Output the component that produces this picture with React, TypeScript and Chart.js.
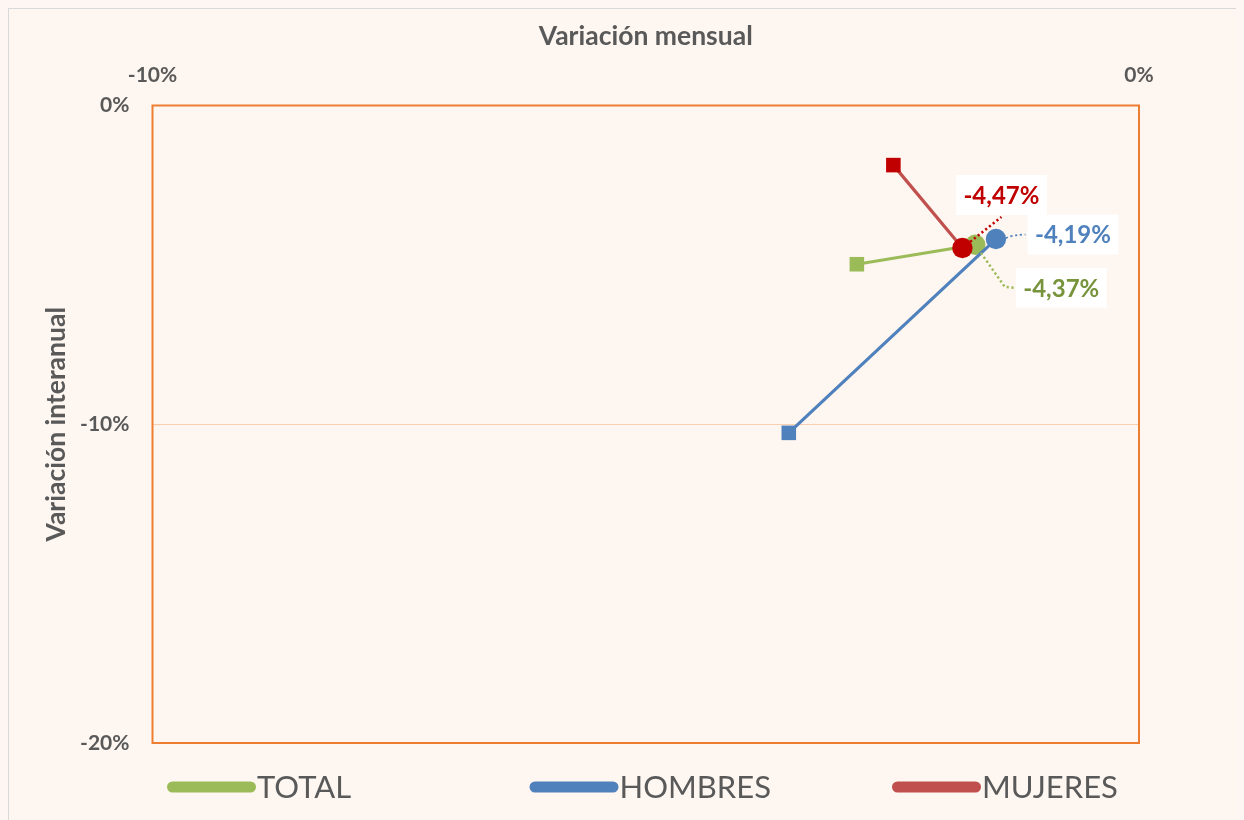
import React, { useEffect, useRef } from 'react';
import { Chart, registerables } from 'chart.js';

Chart.register(...registerables);

// ---------- data ----------
const seriesNames = ['TOTAL', 'HOMBRES', 'MUJERES'];
const monthlyTotal = [-2.86, -1.66];
const annualTotal = [-4.98, -4.37];
const monthlyHombres = [-3.55, -1.45];
const annualHombres = [-10.27, -4.19];
const monthlyMujeres = [-2.49, -1.79];
const annualMujeres = [-1.87, -4.47];
const xTickValues = [-10, 0];
const yTickValues = [0, -10, -20];
const xTitle = 'Variación mensual';
const yTitle = 'Variación interanual';

// ---------- styles ----------
const FONT = 'Lato, "Open Sans", sans-serif';
const GRAY = '#595959';
const lineColors = ['#9BBB59', '#4F81BD', '#C0504D'];
const markerColors = ['#9BBB59', '#4F81BD', '#C00000'];
const labelColors = ['#77933C', '#4F81BD', '#C00000'];
const leaderColors = ['#9BBB59', '#4F81BD', '#C00000'];
// label centre offset from the last point (px) and leader type
const labelLayout = [
  { dx: 86, dy: 43, kind: 'below' },
  { dx: 77, dy: -4.5, kind: 'right' },
  { dx: 39, dy: -53, kind: 'above' },
];

const fmt = (v: number) => v.toFixed(2).replace('.', ',') + '%';

const framePlugin = {
  id: 'frame',
  beforeDatasetsDraw(chart: any) {
    const { ctx, chartArea: a } = chart;
    ctx.save();
    ctx.strokeStyle = '#ED7D31';
    ctx.lineWidth = 2;
    ctx.strokeRect(a.left, a.top, a.right - a.left, a.bottom - a.top);
    ctx.restore();
  },
};

const labelPlugin = {
  id: 'pointLabels',
  afterDatasetsDraw(chart: any) {
    const { ctx } = chart;
    ctx.save();
    const boxW = 91;
    const boxH = 40;
    // leaders first
    chart.data.datasets.forEach((ds: any, i: number) => {
      const meta = chart.getDatasetMeta(i);
      const el = meta.data[meta.data.length - 1];
      const px = el.x;
      const py = el.y;
      const lay = labelLayout[i];
      const cx = px + lay.dx;
      const cy = py + lay.dy;
      const left = cx - boxW / 2;
      ctx.strokeStyle = leaderColors[i];
      ctx.setLineDash([2.2, 2.6]);
      ctx.lineCap = 'butt';
      ctx.beginPath();
      if (lay.kind === 'above') {
        const tx = cx, ty = cy + boxH / 2 + 2;
        const d = Math.hypot(tx - px, ty - py);
        ctx.lineWidth = 2.5;
        ctx.moveTo(px + ((tx - px) / d) * 10, py + ((ty - py) / d) * 10);
        ctx.lineTo(tx, ty);
      } else if (lay.kind === 'right') {
        ctx.lineWidth = 1.8;
        ctx.moveTo(px + 10, py - 1);
        ctx.quadraticCurveTo(px + 18, cy, left - 2, cy);
      } else {
        ctx.lineWidth = 2.5;
        const tx = left - 11, ty = cy - 1;
        const d = Math.hypot(tx - px, ty - py);
        ctx.moveTo(px + ((tx - px) / d) * 10, py + ((ty - py) / d) * 10);
        ctx.lineTo(tx, ty);
        ctx.lineTo(left - 1, cy);
      }
      ctx.stroke();
    });
    ctx.setLineDash([]);
    // boxes + text
    chart.data.datasets.forEach((ds: any, i: number) => {
      const meta = chart.getDatasetMeta(i);
      const el = meta.data[meta.data.length - 1];
      const lay = labelLayout[i];
      const cx = el.x + lay.dx;
      const cy = el.y + lay.dy;
      ctx.fillStyle = '#FFFFFF';
      ctx.fillRect(cx - boxW / 2, cy - boxH / 2, boxW, boxH);
      ctx.fillStyle = labelColors[i];
      ctx.font = `bold 24px ${FONT}`;
      ctx.textAlign = 'center';
      ctx.textBaseline = 'middle';
      const last = ds.data[ds.data.length - 1];
      ctx.fillText(fmt(last.y), cx, cy + 1);
    });
    ctx.restore();
  },
};

const legendPlugin = {
  id: 'customLegend',
  afterDraw(chart: any) {
    const { ctx } = chart;
    ctx.save();
    const y = 778;
    const start = 158;
    const slot = 362.5;
    const sw = 89;
    seriesNames.forEach((name, i) => {
      const x = start + i * slot;
      ctx.strokeStyle = lineColors[i];
      ctx.lineWidth = 11;
      ctx.lineCap = 'round';
      ctx.beginPath();
      ctx.moveTo(x + 5.5, y);
      ctx.lineTo(x + sw - 5.5, y);
      ctx.stroke();
      ctx.fillStyle = GRAY;
      ctx.font = `31px ${FONT}`;
      ctx.textAlign = 'left';
      ctx.textBaseline = 'middle';
      ctx.fillText(name, x + sw + 1, y + 1);
    });
    ctx.restore();
  },
};

export default function App() {
  const ref = useRef<HTMLCanvasElement>(null);

  useEffect(() => {
    document.body.style.background = '#FDF6F3';
    const canvas = ref.current;
    if (!canvas) return;
    const mk = (xs: number[], ys: number[]) => xs.map((x, i) => ({ x, y: ys[i] }));
    const seriesData = [
      mk(monthlyTotal, annualTotal),
      mk(monthlyHombres, annualHombres),
      mk(monthlyMujeres, annualMujeres),
    ];
    const drawOrder = [2, 1, 0];
    const chart = new Chart(canvas, {
      type: 'scatter',
      data: {
        datasets: seriesNames.map((name, i) => ({
          label: name,
          data: seriesData[i],
          showLine: true,
          borderColor: lineColors[i],
          borderWidth: 3.2,
          backgroundColor: markerColors[i],
          pointBackgroundColor: markerColors[i],
          pointBorderColor: markerColors[i],
          pointBorderWidth: 0,
          pointStyle: ['rect', 'circle'],
          pointRadius: [10.3, 10.2],
          order: drawOrder[i],
          clip: false as any,
        })),
      },
      options: {
        responsive: false,
        animation: false,
        events: [],
        layout: { padding: { left: 0, top: 0, right: 105, bottom: 77 } },
        plugins: {
          legend: { display: false },
          tooltip: { enabled: false },
          title: { display: false },
        },
        scales: {
          x: {
            type: 'linear',
            position: 'top',
            min: xTickValues[0],
            max: xTickValues[xTickValues.length - 1],
            afterBuildTicks: (s: any) => {
              s.ticks = xTickValues.map((v) => ({ value: v }));
            },
            afterFit: (s: any) => {
              s.height = 96.5;
            },
            grid: { display: false, drawTicks: false },
            border: { display: false },
            ticks: {
              padding: 18,
              maxRotation: 0,
              autoSkip: false,
              color: GRAY,
              font: { family: FONT, size: 21, weight: 'bold' },
              callback: (v: any) => `${v}%`,
            },
            title: {
              display: true,
              text: xTitle,
              color: GRAY,
              font: { family: FONT, size: 26.5, weight: 'bold' },
              padding: { top: 12, bottom: 0 },
            },
          },
          y: {
            type: 'linear',
            position: 'left',
            min: yTickValues[yTickValues.length - 1],
            max: yTickValues[0],
            afterBuildTicks: (s: any) => {
              s.ticks = yTickValues.map((v) => ({ value: v }));
            },
            afterFit: (s: any) => {
              s.width = 143.5;
            },
            grid: {
              drawTicks: false,
              lineWidth: 1,
              color: (c: any) => (c.tick && c.tick.value === -10 ? '#F8CFB0' : 'rgba(0,0,0,0)'),
            },
            border: { display: false },
            ticks: {
              padding: 23,
              autoSkip: false,
              color: GRAY,
              font: { family: FONT, size: 21, weight: 'bold' },
              callback: (v: any) => `${v}%`,
            },
            title: {
              display: true,
              text: yTitle,
              color: GRAY,
              font: { family: FONT, size: 26.5, weight: 'bold' },
              padding: { top: 32, bottom: 0 },
            },
          },
        },
      },
      plugins: [framePlugin, labelPlugin, legendPlugin],
    } as any);
    return () => chart.destroy();
  }, []);

  return (
    <div
      style={{
        width: 1236,
        height: 812,
        boxSizing: 'border-box',
        borderTop: '1px solid #D9D9D9',
        borderLeft: '1px solid #D9D9D9',
        background: '#FEF6F0',
        overflow: 'hidden',
      }}
    >
      <canvas ref={ref} width={1235} height={811} style={{ display: 'block', width: 1235, height: 811 }} />
    </div>
  );
}
